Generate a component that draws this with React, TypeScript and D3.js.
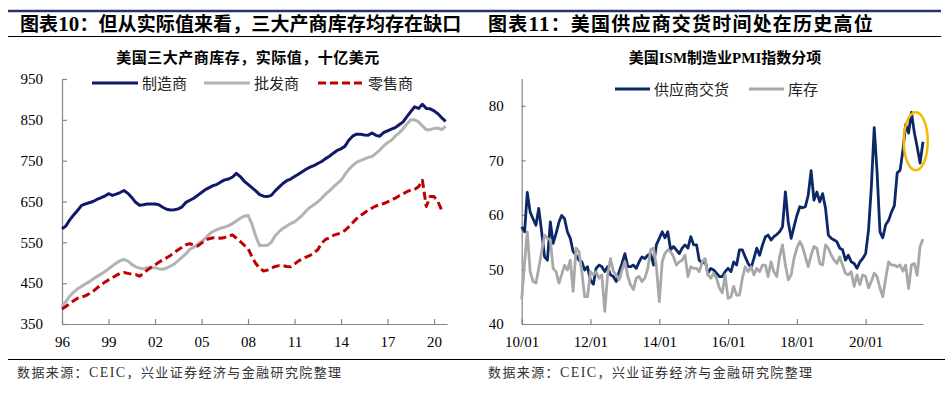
import React, { useEffect, useRef } from 'react';
import * as d3 from 'd3';

// 图表10: 美国三大产商库存，实际值，十亿美元 (quarterly from 1996Q1)
const invStart = new Date(1996, 0, 1);
const invEnd = new Date(2020, 10, 1);
const invTickYears = [1996, 1999, 2002, 2005, 2008, 2011, 2014, 2017, 2020];
const invTicks = [350, 450, 550, 650, 750, 850, 950];

const manufacturers = [
  583, 590, 605, 617, 628, 640, 644, 647, 650, 655, 659, 663,
  669, 665, 668, 672, 677, 670, 660, 648, 641, 642, 644, 644,
  644, 642, 636, 631, 629, 630, 632, 637, 648, 653, 658, 665,
  672, 679, 684, 689, 692, 698, 703, 705, 710, 719, 711, 700,
  692, 684, 676, 667, 663, 662, 665, 676, 685, 694, 701, 705,
  711, 717, 723, 729, 734, 738, 743, 748, 755, 761, 768, 775,
  779, 785, 800, 810, 815, 815, 813, 812, 818, 812, 810, 819,
  823, 827, 831, 838, 845, 858, 870, 882, 878, 888, 878, 877,
  872, 865, 855, 846,
];
const wholesalers = [
  392, 405, 418, 428, 436, 442, 448, 453, 460, 466, 472, 478,
  485, 492, 499, 505, 508, 504, 496, 490, 487, 485, 488, 488,
  488, 485, 484, 487, 492, 497, 505, 514, 522, 533, 538, 545,
  552, 560, 570, 577, 581, 585, 587, 591, 596, 602, 609, 614,
  616, 595, 565, 542, 542, 543, 550, 566, 576, 584, 590, 596,
  600, 608, 616, 627, 636, 642, 649, 658, 668, 676, 685, 694,
  702, 716, 728, 738, 746, 750, 754, 758, 760, 768, 776, 786,
  794, 800, 810, 818, 828, 840, 850, 850, 845, 835, 826, 826,
  829, 830, 826, 834,
];
const retailers = [
  387, 393, 400, 407, 413, 416, 419, 424, 430, 438, 445, 452,
  458, 463, 469, 474, 476, 474, 472, 471, 467, 474, 482, 489,
  495, 501, 507, 512, 518, 525, 532, 538, 544, 547, 543, 541,
  548, 555, 559, 561, 561, 560, 562, 566, 568, 560, 552, 543,
  535, 515, 498, 487, 480, 482, 487, 491, 493, 493, 491, 490,
  497, 504, 510, 514, 518, 524, 532, 548, 557, 561, 567, 570,
  573, 579, 588, 598, 608, 615, 622, 629, 634, 639, 642, 645,
  649, 654, 658, 664, 669, 674, 678, 680, 686, 702, 638, 662,
  662, 650, 628,
];

// 图表11: 美国ISM制造业PMI指数分项 (monthly from 2010/01)
const pmiStart = new Date(2010, 0, 1);
const pmiEnd = new Date(2021, 8, 1);
const pmiTickYears = [2010, 2012, 2014, 2016, 2018, 2020];
const pmiTicks = [40, 50, 60, 70, 80];

const supplierDeliveries = [
  57.8, 56.9, 64.1, 60.5, 59.3, 58.1, 61.2, 56.9, 52.3, 51.7, 58.7, 54.8,
  56.6, 58.7, 59.9, 59.3, 56.9, 55.7, 53.3, 52.6, 51.7, 51.4, 49.9, 50.5,
  48.0, 47.3, 50.2, 50.8, 50.5, 49.6, 50.5, 49.0, 48.7, 47.8, 49.6, 51.1,
  52.9, 50.5, 50.5, 50.8, 50.2, 51.4, 52.3, 52.0, 52.6, 52.9, 50.8, 54.5,
  55.7, 56.9, 55.8, 56.9, 53.6, 54.2, 53.6, 52.9, 53.9, 54.5, 53.9, 56.0,
  54.5, 54.5, 51.7, 51.1, 51.7, 49.3, 50.2, 49.9, 49.3, 48.7, 48.7, 49.6,
  50.2, 49.6, 51.4, 50.8, 53.6, 53.6, 52.3, 51.1, 50.3, 52.0, 53.9, 52.6,
  54.5, 56.0, 56.3, 55.4, 56.0, 56.4, 56.9, 57.8, 64.2, 58.7, 55.7, 57.8,
  59.9, 61.5, 61.3, 61.5, 63.6, 68.1, 62.7, 64.2, 62.4, 63.9, 61.2, 56.3,
  55.7, 55.4, 55.1, 53.9, 53.6, 51.7, 52.6, 51.4, 51.1, 50.2, 51.4, 52.0,
  52.9, 57.3, 65.0, 76.0, 68.0, 56.9, 55.8, 58.2, 59.0, 60.5, 61.7, 67.7,
  68.2, 72.0, 76.6, 75.0, 78.8, 75.1, 72.5, 69.5, 73.4,
];
const inventories = [
  44.5, 51.4, 56.9, 49.6, 47.8, 47.5, 50.2, 53.3, 56.3, 55.7, 55.4, 50.2,
  49.6, 47.5, 49.0, 50.8, 49.9, 51.7, 46.0, 53.9, 53.3, 49.6, 45.0, 45.0,
  49.6, 49.0, 49.6, 48.4, 49.0, 42.3, 49.0, 52.0, 49.6, 49.0, 48.1, 49.9,
  51.4, 48.7, 47.2, 46.3, 48.4, 48.7, 47.8, 48.4, 50.2, 53.6, 53.9, 50.5,
  44.1, 51.4, 52.9, 53.6, 53.3, 52.3, 50.8, 51.4, 51.7, 52.6, 48.7, 50.5,
  50.2, 50.2, 49.6, 51.4, 52.0, 49.0, 48.4, 49.3, 48.4, 46.6, 45.7, 49.0,
  44.7, 45.0, 46.9, 45.3, 45.3, 48.4, 50.5, 49.6, 50.5, 49.0, 50.2, 49.6,
  50.8, 50.8, 48.7, 51.4, 49.6, 48.7, 52.3, 54.5, 50.8, 48.1, 49.0, 52.0,
  53.9, 55.1, 54.2, 52.3, 50.5, 52.6, 54.2, 53.9, 51.1, 50.8, 54.5, 53.9,
  52.6, 51.7, 51.1, 52.3, 50.8, 49.3, 49.0, 49.6, 46.9, 49.0, 47.2, 49.0,
  48.7, 46.6, 47.8, 49.3, 48.7, 46.6, 45.0, 48.4, 51.4, 50.8, 50.8, 50.5,
  50.8, 49.7, 50.8, 46.5, 50.8, 51.1, 48.9, 54.2, 55.6,
];

const SERIF = '"Liberation Serif", "Times New Roman", serif';
const CJK = '"Noto Sans CJK SC", "Noto Sans", sans-serif';
const AXIS = '#868686';

const App = () => {
  const ref = useRef<SVGSVGElement>(null);

  useEffect(() => {
    const svg = d3.select(ref.current);
    svg.selectAll('*').remove();

    // page rules
    svg.append('line').attr('x1', 8).attr('x2', 941).attr('y1', 11).attr('y2', 11)
      .attr('stroke', '#283468').attr('stroke-width', 2.5);
    svg.append('line').attr('x1', 8).attr('x2', 941).attr('y1', 36.5).attr('y2', 36.5)
      .attr('stroke', '#000').attr('stroke-width', 1);
    svg.append('line').attr('x1', 8).attr('x2', 945).attr('y1', 359.5).attr('y2', 359.5)
      .attr('stroke', '#000').attr('stroke-width', 1.2);

    const title = (x: number, num: string, rest: string, spacing: number) => {
      const t = svg.append('text').attr('x', x).attr('y', 31)
        .attr('font-family', CJK).attr('font-size', 19).attr('font-weight', 700)
        .attr('letter-spacing', spacing).attr('fill', '#000');
      t.append('tspan').text('图表');
      t.append('tspan').attr('font-family', SERIF).attr('font-size', 21).text(num);
      t.append('tspan').text('：' + rest);
    };
    title(20, '10', '但从实际值来看，三大产商库存均存在缺口', 0.1);
    title(488, '11', '美国供应商交货时间处在历史高位', 1.2);

    const footer = (x: number) => {
      const t = svg.append('text').attr('x', x).attr('y', 377)
        .attr('font-family', CJK).attr('font-size', 13).attr('letter-spacing', 1.4).attr('fill', '#333');
      t.append('tspan').text('数据来源：');
      t.append('tspan').attr('font-family', SERIF).attr('font-size', 14).text('CEIC');
      t.append('tspan').text('，兴业证券经济与金融研究院整理');
    };
    footer(17);
    footer(488);

    const styleAxis = (g: any) => {
      g.attr('font-family', SERIF).attr('font-size', 15);
      g.select('.domain').attr('stroke', AXIS).attr('stroke-width', 1.2);
      g.selectAll('.tick line').attr('stroke', AXIS).attr('stroke-width', 1.2);
      g.selectAll('.tick text').attr('fill', '#000');
    };

    // ---------- left chart ----------
    svg.append('text').attr('x', 248).attr('y', 62.5).attr('text-anchor', 'middle')
      .attr('font-family', CJK).attr('font-size', 15).attr('font-weight', 700)
      .attr('letter-spacing', 0.5).text('美国三大产商库存，实际值，十亿美元');

    const xL = d3.scaleTime().domain([invStart, invEnd]).range([62, 447]);
    const yL = d3.scaleLinear().domain([350, 950]).range([324, 79]);

    svg.append('g').attr('transform', 'translate(62,0)')
      .call(d3.axisLeft(yL).tickValues(invTicks).tickSizeInner(-5).tickSizeOuter(0).tickPadding(19))
      .call(styleAxis);
    svg.append('g').attr('transform', 'translate(0,324)')
      .call(d3.axisBottom(xL).tickValues(invTickYears.map(y => new Date(y, 0, 1)))
        .tickFormat(d3.timeFormat('%y') as any).tickSizeInner(-5).tickSizeOuter(0).tickPadding(12))
      .call(styleAxis);

    const lineL = d3.line<number>()
      .x((d, i) => xL(d3.timeMonth.offset(invStart, i * 3)))
      .y(d => yL(d));

    const leftSeries = [
      { name: '制造商', data: manufacturers, color: '#10186a', dash: null, lx: 92 },
      { name: '批发商', data: wholesalers, color: '#b3b3b3', dash: null, lx: 204 },
      { name: '零售商', data: retailers, color: '#c00000', dash: '8,4', lx: 318 },
    ];
    leftSeries.forEach(s => {
      svg.append('path').datum(s.data).attr('d', lineL)
        .attr('fill', 'none').attr('stroke', s.color).attr('stroke-width', 3)
        .attr('stroke-dasharray', s.dash).attr('stroke-linejoin', 'round');
      svg.append('line').attr('x1', s.lx).attr('x2', s.lx + 46).attr('y1', 83).attr('y2', 83)
        .attr('stroke', s.color).attr('stroke-width', 3).attr('stroke-dasharray', s.dash);
      svg.append('text').attr('x', s.lx + 50).attr('y', 88.5)
        .attr('font-family', CJK).attr('font-size', 15).attr('fill', '#222').text(s.name);
    });

    // ---------- right chart ----------
    const sub = svg.append('text').attr('x', 725).attr('y', 62.5).attr('text-anchor', 'middle')
      .attr('font-family', CJK).attr('font-size', 15).attr('font-weight', 700);
    sub.append('tspan').text('美国');
    sub.append('tspan').attr('font-family', SERIF).text('ISM');
    sub.append('tspan').text('制造业');
    sub.append('tspan').attr('font-family', SERIF).text('PMI');
    sub.append('tspan').text('指数分项');

    const xR = d3.scaleTime().domain([pmiStart, pmiEnd]).range([521.7, 923]);
    const yR = d3.scaleLinear().domain([40, 85]).range([324, 78.5]);

    svg.append('g').attr('transform', 'translate(521.7,0)')
      .call(d3.axisLeft(yR).tickValues(pmiTicks).tickSizeInner(-4).tickSizeOuter(0).tickPadding(18))
      .call(styleAxis);
    svg.append('g').attr('transform', 'translate(0,324)')
      .call(d3.axisBottom(xR).tickValues(pmiTickYears.map(y => new Date(y, 0, 1)))
        .tickFormat(d3.timeFormat('%y/%m') as any).tickSizeInner(-5).tickSizeOuter(0).tickPadding(12))
      .call(styleAxis);

    const lineR = d3.line<number>()
      .x((d, i) => xR(d3.timeMonth.offset(pmiStart, i)))
      .y(d => yR(d));

    const rightSeries = [
      { name: '供应商交货', data: supplierDeliveries, color: '#0c2868', lx: 615 },
      { name: '库存', data: inventories, color: '#a8a8a8', lx: 749 },
    ];
    rightSeries.forEach(s => {
      svg.append('path').datum(s.data).attr('d', lineR)
        .attr('fill', 'none').attr('stroke', s.color).attr('stroke-width', 2.8)
        .attr('stroke-linejoin', 'round');
      svg.append('line').attr('x1', s.lx).attr('x2', s.lx + 35).attr('y1', 89).attr('y2', 89)
        .attr('stroke', s.color).attr('stroke-width', 3);
      svg.append('text').attr('x', s.lx + 39).attr('y', 94.5)
        .attr('font-family', CJK).attr('font-size', 15).attr('fill', '#222').text(s.name);
    });

    // highlight around the latest supplier-delivery readings
    svg.append('ellipse')
      .attr('cx', xR(new Date(2021, 5, 16))).attr('cy', yR(73.5))
      .attr('rx', 12).attr('ry', 29)
      .attr('fill', 'none').attr('stroke', '#f5b800').attr('stroke-width', 2.5);
  }, []);

  return (
    <svg ref={ref} width={951} height={394}
      style={{ position: 'absolute', left: 0, top: 0, background: '#fff' }} />
  );
};

export default App;
